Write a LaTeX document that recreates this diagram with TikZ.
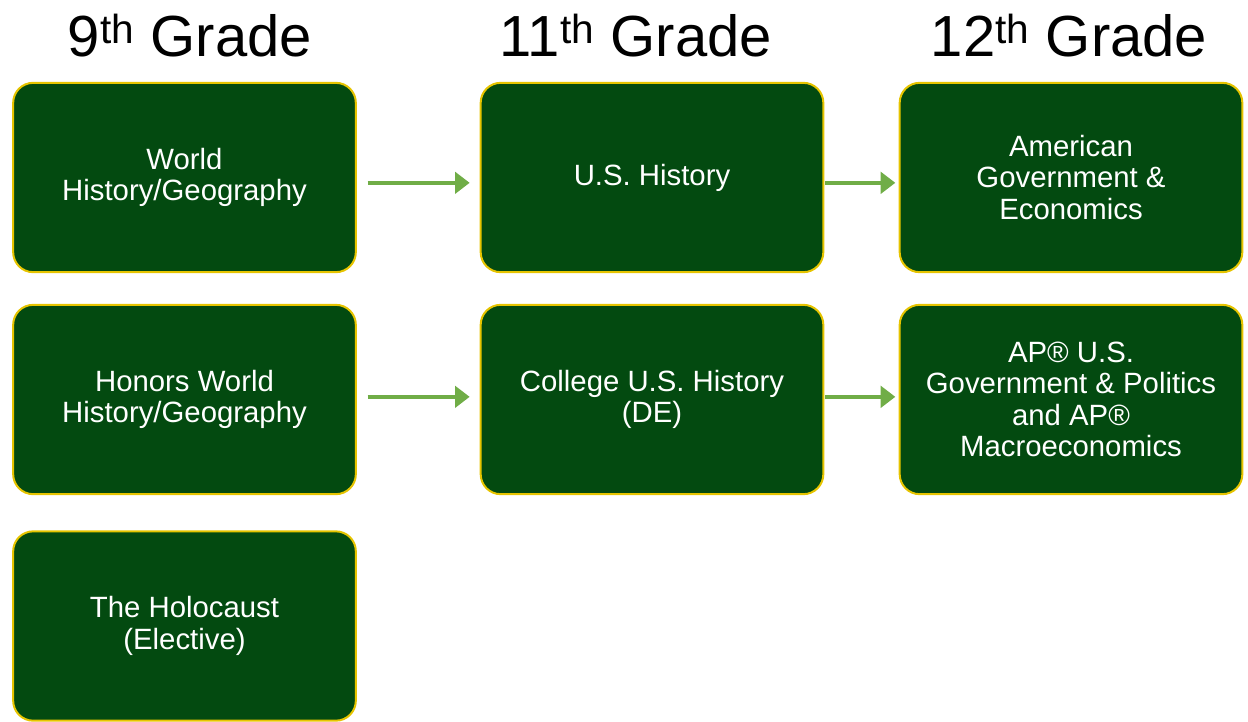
\documentclass[tikz,border=0pt]{standalone}
\usepackage{fontspec}
\setmainfont{Liberation Sans}
\usetikzlibrary{arrows.meta,positioning}
\definecolor{boxgreen}{HTML}{034A10}
\definecolor{boxgold}{HTML}{E6C400}
\definecolor{arrowgreen}{HTML}{70AD47}
\tikzset{
    % Define course box
    course/.style={
           draw=boxgold,
           fill=boxgreen,
           line width=1.5pt,
           rounded corners=15pt,
           minimum width=257pt,
           minimum height=142pt,
           inner sep=0pt,
           text=white,
           align=center,
           font=\fontsize{22}{23.5}\selectfont},
    % Define grade heading
    grade/.style={
           anchor=base,
           font=\fontsize{43.5}{48}\selectfont},
    % Define arrow style
    pil/.style={
           -{Triangle[length=11pt,width=16pt]},
           line width=3pt,
           draw=arrowgreen}
}
\begin{document}
\begin{tikzpicture}[x=0.75pt,y=-0.75pt]
\useasboundingbox (0,0) rectangle (1248,721);

\node[grade] (g9) at (190,56) {9\textsuperscript{th} Grade};
\node[grade] (g11) at (636,56) {11\textsuperscript{th} Grade};
\node[grade] (g12) at (1069,56) {12\textsuperscript{th} Grade};

\node[course] (world) at (184.5,177.5) {World\\History/Geography};
\node[course] (honors) at (184.5,399.5) {Honors World\\History/Geography};
\node[course] (holocaust) at (184.5,626) {The Holocaust\\(Elective)};

\node[course] (ushist) at (652,177.5) {U.S. History};
\node[course] (collegeus) at (652,399.5) {College U.S. History\\(DE)};

\node[course] (amgov) at (1071,177.5) {American\\Government \&\\Economics};
\node[course] (apgov) at (1071,399.5) {AP® U.S.\\Government \& Politics\\and AP®\\Macroeconomics};

\draw[pil, shorten <=8pt, shorten >=7.5pt] ([yshift=-4pt]world.east) -- ([yshift=-4pt]ushist.west);
\draw[pil, shorten <=0.5pt, shorten >=2.5pt] ([yshift=-4pt]ushist.east) -- ([yshift=-4pt]amgov.west);

\draw[pil, shorten <=8pt, shorten >=7.5pt] ([yshift=2pt]honors.east) -- ([yshift=2pt]collegeus.west);
\draw[pil, shorten <=0.5pt, shorten >=2.5pt] ([yshift=2pt]collegeus.east) -- ([yshift=2pt]apgov.west);
\end{tikzpicture}
\end{document}
